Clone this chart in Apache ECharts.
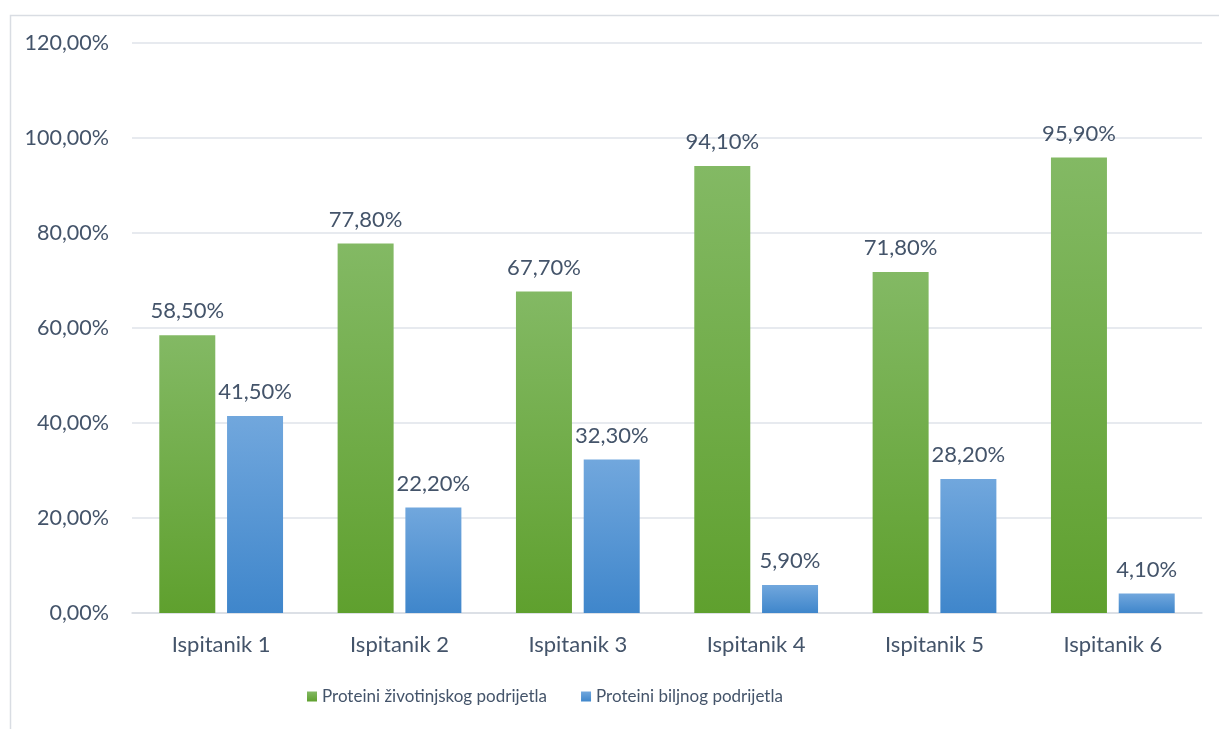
<!DOCTYPE html>
<html>
<head>
<meta charset="utf-8">
<script src="https://cdn.jsdelivr.net/npm/echarts@6/dist/echarts.min.js"></script>
<style>
html,body{margin:0;padding:0;background:#fff;}
#c{width:1219px;height:729px;}
</style>
</head>
<body>
<div id="c"></div>
<script>
const categories = ['Ispitanik 1','Ispitanik 2','Ispitanik 3','Ispitanik 4','Ispitanik 5','Ispitanik 6'];
const animalValues = [58.5, 77.8, 67.7, 94.1, 71.8, 95.9];
const plantValues = [41.5, 22.2, 32.3, 5.9, 28.2, 4.1];
const seriesNames = ['Proteini životinjskog podrijetla', 'Proteini biljnog podrijetla'];

const fmt = v => v.toFixed(2).replace('.', ',') + '%';
const textColor = '#44546a';
const fontFamily = 'Lato, "Open Sans", sans-serif';

const greenGrad = new echarts.graphic.LinearGradient(0,0,0,1,[{offset:0,color:'#83b964'},{offset:1,color:'#5fa02e'}]);
const blueGrad = new echarts.graphic.LinearGradient(0,0,0,1,[{offset:0,color:'#71a7dd'},{offset:1,color:'#3f86cb'}]);

const chart = echarts.init(document.getElementById('c'));
chart.setOption({
  animation: false,
  textStyle: {fontFamily: fontFamily},
  graphic: [{
    type: 'rect', left: 8, top: 13,
    shape: {width: 1300, height: 800},
    style: {fill: 'none', stroke: '#d9dde3', lineWidth: 1.5},
    silent: true
  }],
  grid: {left: 132, right: 17, top: 43, bottom: 116, containLabel: false},
  legend: {
    data: seriesNames,
    bottom: 19,
    left: 302,
    itemWidth: 10, itemHeight: 10, itemGap: 34,
    icon: 'rect',
    textStyle: {color: textColor, fontSize: 17, fontFamily: fontFamily}
  },
  xAxis: {
    type: 'category',
    data: categories,
    axisLine: {lineStyle: {color: '#d9dde3', width: 1.5}},
    axisTick: {show: false},
    axisLabel: {color: textColor, fontSize: 22, margin: 21, fontFamily: fontFamily}
  },
  yAxis: {
    type: 'value',
    min: 0, max: 120, interval: 20,
    axisLine: {show: false},
    axisTick: {show: false},
    splitLine: {lineStyle: {color: '#dfe3ea', width: 1.5}},
    axisLabel: {color: textColor, fontSize: 21.5, margin: 23, fontFamily: fontFamily, formatter: v => fmt(v)}
  },
  series: [
    {
      name: seriesNames[0], type: 'bar', data: animalValues,
      barWidth: 56, barGap: '21%',
      itemStyle: {color: greenGrad},
      label: {show: true, position: 'top', distance: 13, color: textColor, fontSize: 22, fontFamily: fontFamily, formatter: p => fmt(p.value)}
    },
    {
      name: seriesNames[1], type: 'bar', data: plantValues,
      barWidth: 56, barGap: '21%',
      itemStyle: {color: blueGrad},
      label: {show: true, position: 'top', distance: 13, color: textColor, fontSize: 22, fontFamily: fontFamily, formatter: p => fmt(p.value)}
    }
  ]
});
</script>
</body>
</html>
